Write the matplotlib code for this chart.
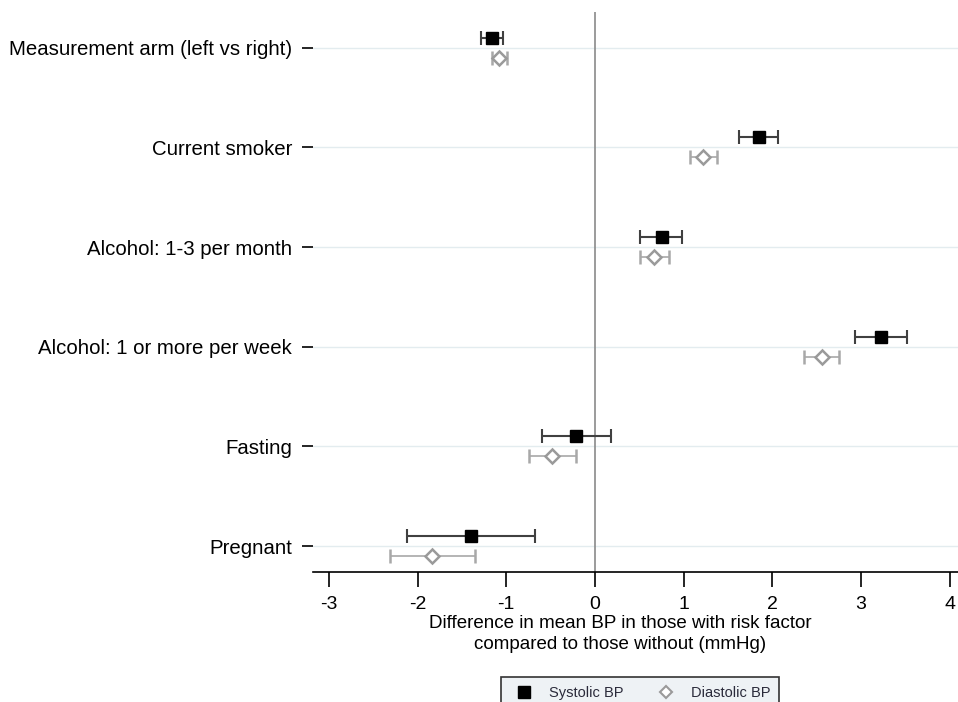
import matplotlib.pyplot as plt
from matplotlib.lines import Line2D

plt.rcParams['font.family'] = ['Liberation Sans', 'DejaVu Sans']

# risk factors, top to bottom
factors = ["Measurement arm (left vs right)", "Current smoker", "Alcohol: 1-3 per month",
           "Alcohol: 1 or more per week", "Fasting", "Pregnant"]

# systolic BP: estimate, lower CI, upper CI
sys_est = [-1.16, 1.85, 0.75, 3.22, -0.21, -1.40]
sys_lo = [-1.28, 1.62, 0.51, 2.93, -0.60, -2.12]
sys_hi = [-1.04, 2.06, 0.98, 3.52, 0.18, -0.68]

# diastolic BP: estimate, lower CI, upper CI
dia_est = [-1.08, 1.22, 0.67, 2.56, -0.49, -1.84]
dia_lo = [-1.16, 1.07, 0.51, 2.36, -0.74, -2.31]
dia_hi = [-0.99, 1.38, 0.83, 2.75, -0.21, -1.35]

xticks = [-3, -2, -1, 0, 1, 2, 3, 4]

fig = plt.figure(figsize=(9.58, 7.02), dpi=100)
ax = fig.add_axes([0.3267, 0.1852, 0.673, 0.798])

ypos = list(range(len(factors)))
off = 0.1

# light gridlines at each factor
for y in ypos:
    ax.axhline(y, color='#e3ecef', lw=1, zorder=0)
ax.axvline(0, color='#8a8a8a', lw=1.2, zorder=1)

ax.errorbar(sys_est, [y - off for y in ypos],
            xerr=[[e - l for e, l in zip(sys_est, sys_lo)], [h - e for e, h in zip(sys_est, sys_hi)]],
            fmt='s', color='black', ecolor='#404040', elinewidth=1.5, capsize=5, capthick=1.5,
            markersize=9, zorder=3)
ax.errorbar(dia_est, [y + off for y in ypos],
            xerr=[[e - l for e, l in zip(dia_est, dia_lo)], [h - e for e, h in zip(dia_est, dia_hi)]],
            fmt='D', mfc='white', mec='#9a9a9a', mew=1.8, ecolor='#a8a8a8', elinewidth=1.2,
            capsize=5, capthick=1.2, markersize=7, zorder=3)

ax.set_xlim(-3.18, 4.09)
ax.set_ylim(5.26, -0.36)
ax.set_xticks(xticks)
ax.set_xticklabels([str(t) for t in xticks])
ax.set_yticks(ypos)
ax.set_yticklabels(factors)

for s in ['top', 'right', 'left']:
    ax.spines[s].set_visible(False)
ax.spines['bottom'].set_linewidth(1.2)
ax.tick_params(axis='x', length=11, width=1.2, labelsize=14, pad=6)
ax.tick_params(axis='y', length=8, width=1.2, labelsize=14.7, pad=7)

ax.set_xlabel("Difference in mean BP in those with risk factor\ncompared to those without (mmHg)",
              fontsize=13.5, linespacing=1.3)
ax.xaxis.set_label_coords(0.477, -0.0765, transform=ax.transAxes)
ax.xaxis.label.set_va('top')

handles = [Line2D([], [], marker='s', color='black', ls='none', markersize=8),
           Line2D([], [], marker='D', mfc='white', mec='#9a9a9a', mew=1.5, ls='none', markersize=6)]
leg = fig.legend(handles, ["Systolic BP", "Diastolic BP"], loc='upper center',
                 bbox_to_anchor=(0.668, 1 - 670 / 702), ncol=2, fontsize=10.5, frameon=True,
                 fancybox=False, edgecolor='#333333', facecolor='#eef2f5', framealpha=1,
                 handletextpad=0.7, columnspacing=1.9, borderpad=0.6)
for t in leg.get_texts():
    t.set_color('#2a2a3a')
leg.get_frame().set_linewidth(1.2)

fig.savefig("out.png", dpi=100)
